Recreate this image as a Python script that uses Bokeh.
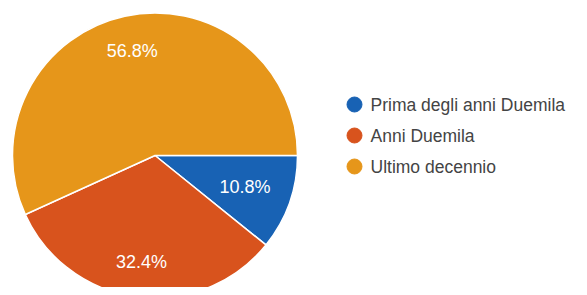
import numpy as np
from bokeh.plotting import figure
from bokeh.models import ColumnDataSource, Range1d
from bokeh.core.properties import value
from bokeh.embed import file_html
from bokeh.resources import INLINE

# ---- data ----
categories = ["Prima degli anni Duemila", "Anni Duemila", "Ultimo decennio"]
percentages = [10.8, 32.4, 56.8]
colors = ["#1862b4", "#d8531d", "#e6961a"]
labels = ["10.8%", "32.4%", "56.8%"]

# ---- layout (pixel units, y measured from top) ----
W, H = 571, 287
cx, cy_top, R = 154.5, 155, 142.5
cy = H - cy_top

frac = np.array(percentages) / sum(percentages)
cum = np.concatenate([[0], np.cumsum(frac)])
start = -cum[:-1] * 2 * np.pi
end = -cum[1:] * 2 * np.pi
mid = (start + end) / 2
# narrow slices get their label pulled a little further inward
lab_r = np.where(frac < 0.2, 0.67, 0.75) * R

src = ColumnDataSource(dict(
    start=start, end=end, color=colors, cat=categories, lab=labels,
    lx=cx + lab_r * np.cos(mid), ly=cy + lab_r * np.sin(mid),
))

p = figure(width=W, height=H, output_backend="svg", toolbar_location=None,
           x_range=Range1d(0, W), y_range=Range1d(0, H),
           min_border=0, min_border_left=0, min_border_right=0,
           min_border_top=0, min_border_bottom=0)
p.axis.visible = False
p.grid.visible = False
p.outline_line_color = None
p.background_fill_color = "white"
p.border_fill_color = "white"

p.wedge(x=cx, y=cy, radius=R, start_angle="start", end_angle="end",
        direction="clock", fill_color="color", line_color="white",
        line_width=1.5, source=src)

p.text(x="lx", y="ly", text="lab", source=src, text_color="white",
       text_font=value("Liberation Sans"), text_font_size="18px",
       text_align="center", text_baseline="middle")

# legend
n = len(categories)
leg_x = 354
leg_y0 = H - 104
leg_dy = 31
leg = ColumnDataSource(dict(
    x=[leg_x] * n, y=[leg_y0 - i * leg_dy for i in range(n)],
    tx=[leg_x + 16] * n, color=colors, cat=categories,
))
p.scatter(x="x", y="y", size=15, marker="circle", fill_color="color",
          line_color="color", source=leg)
p.text(x="tx", y="y", text="cat", source=leg, text_color="#444444",
       text_font=value("Liberation Sans"), text_font_size="17.5px",
       text_align="left", text_baseline="middle")

open("out.html", "w").write(file_html(p, INLINE))
